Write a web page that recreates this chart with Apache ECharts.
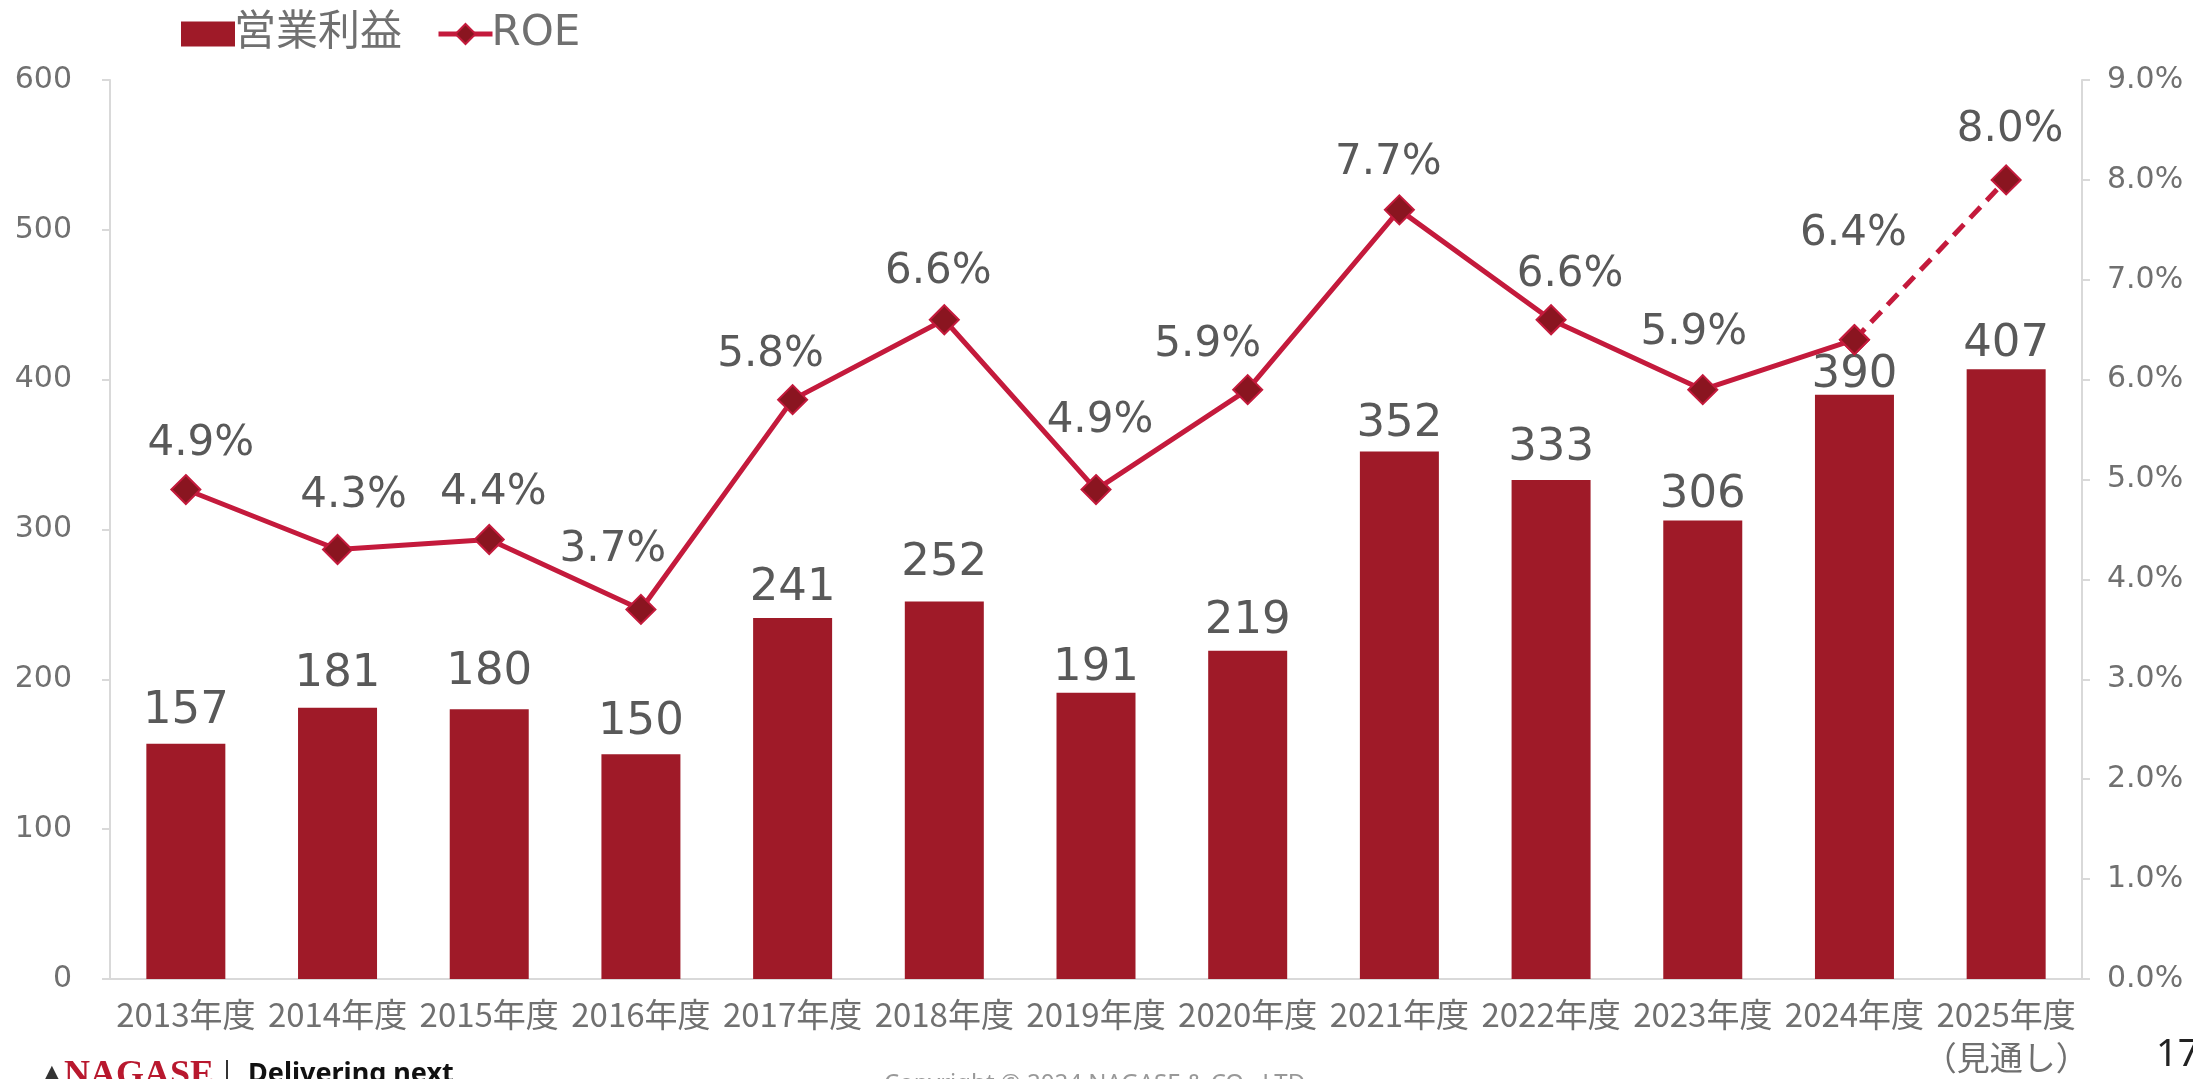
<!DOCTYPE html>
<html>
<head>
<meta charset="utf-8">
<script src="https://cdn.jsdelivr.net/npm/echarts@6/dist/echarts.min.js"></script>
<style>
html, body { margin: 0; padding: 0; background: #fff; }
#main { width: 2193px; height: 1079px; }
</style>
</head>
<body>
<div id="main"></div>
<script>
// data
var years = ['2013年度', '2014年度', '2015年度', '2016年度', '2017年度', '2018年度', '2019年度',
             '2020年度', '2021年度', '2022年度', '2023年度', '2024年度', '2025年度\n（見通し）'];
var opProfit = [157, 181, 180, 150, 241, 252, 191, 219, 352, 333, 306, 390, 407];
var roe = [4.9, 4.3, 4.4, 3.7, 5.8, 6.6, 4.9, 5.9, 7.7, 6.6, 5.9, 6.4, 8.0];
var leftTicks = [0, 600, 100];
var rightTicks = [0, 9, 1];

// hand placed label nudges (px) as in the original slide
var roeLabelNudge = [[15, 0], [16, -8], [4, -1], [-28, -14], [-22, 1], [-6, -2], [4, -23],
                     [-40, 1], [-11, -1], [19, 1], [-9, -11], [-1, -60], [4, -4]];
var barLabelNudge = [0, 1, 4, -1, -3, 6, -8, -3, -5, -1, -7, -13, -8];

var barColor = '#9F1A28';
var lineColor = '#C41A3C';
var markColor = '#8A1520';
var axisText = '#707070';
var labelText = '#595959';

// actual years solid, forecast year dashed
var lastIdx = roe.length - 1;
var roeSolid = roe.map(function (v, i) {
    if (i >= lastIdx) return '-';
    return { value: v, label: { offset: roeLabelNudge[i] } };
});
var roeDash = roe.map(function (v, i) {
    if (i < lastIdx - 1) return '-';
    return { value: v, label: { show: i === lastIdx, offset: roeLabelNudge[i] } };
});
var barData = opProfit.map(function (v, i) {
    return { value: v, label: { offset: [0, -barLabelNudge[i]] } };
});

var pctLabel = {
    show: true,
    position: 'top',
    distance: 9,
    fontFamily: 'DejaVu Sans',
    fontSize: 42,
    color: labelText,
    formatter: function (p) { return p.value.toFixed(1) + '%'; }
};

var dom = document.getElementById('main');
var myChart = echarts.init(dom);
var option = {
    animation: false,
    textStyle: { fontFamily: "'Noto Sans CJK JP', 'Noto Sans', sans-serif" },
    legend: {
        left: 176,
        top: 8,
        itemWidth: 54,
        itemHeight: 25,
        itemGap: 34,
        lineStyle: { width: 5 },
        textStyle: {
            fontFamily: "'DejaVu Sans', 'Noto Sans CJK JP'",
            fontSize: 42, color: axisText, padding: [0, 0, 0, -6]
        },
        data: [
            { name: '営業利益', icon: 'rect' },
            { name: 'ROE' }
        ]
    },
    grid: { left: 110, right: 111, top: 80, bottom: 89, containLabel: false },
    xAxis: {
        type: 'category',
        data: years,
        axisLine: { lineStyle: { color: '#D9D9D9', width: 2 } },
        axisTick: { show: false },
        axisLabel: {
            interval: 0,
            margin: 14,
            fontSize: 33,
            lineHeight: 43,
            color: axisText
        }
    },
    yAxis: [
        {
            type: 'value',
            min: leftTicks[0], max: leftTicks[1], interval: leftTicks[2],
            splitLine: { show: false },
            axisLine: { show: true, lineStyle: { color: '#D9D9D9', width: 2 } },
            axisTick: { show: true, length: 8, lineStyle: { color: '#D9D9D9', width: 2 } },
            axisLabel: { margin: 38, fontFamily: 'DejaVu Sans', fontSize: 30, color: axisText }
        },
        {
            type: 'value',
            position: 'right',
            min: rightTicks[0], max: rightTicks[1], interval: rightTicks[2],
            splitLine: { show: false },
            axisLine: { show: true, lineStyle: { color: '#D9D9D9', width: 2 } },
            axisTick: { show: true, length: 8, lineStyle: { color: '#D9D9D9', width: 2 } },
            axisLabel: {
                margin: 25, fontFamily: 'DejaVu Sans', fontSize: 30, color: axisText,
                formatter: function (v) { return v.toFixed(1) + '%'; }
            }
        }
    ],
    series: [
        {
            name: '営業利益',
            type: 'bar',
            data: barData,
            barWidth: 79,
            itemStyle: { color: barColor },
            label: {
                show: true,
                position: 'top',
                distance: 10,
                fontFamily: 'DejaVu Sans',
                fontSize: 45,
                color: labelText
            }
        },
        {
            name: 'ROE',
            type: 'line',
            yAxisIndex: 1,
            data: roeSolid,
            symbol: 'diamond',
            symbolSize: 29,
            lineStyle: { color: lineColor, width: 5 },
            itemStyle: { color: markColor, borderColor: lineColor, borderWidth: 2 },
            label: pctLabel,
            z: 3
        },
        {
            name: 'ROE',
            type: 'line',
            yAxisIndex: 1,
            data: roeDash,
            symbol: 'diamond',
            symbolSize: 29,
            lineStyle: { color: lineColor, width: 5, type: [15, 9] },
            itemStyle: { color: markColor, borderColor: lineColor, borderWidth: 2 },
            label: pctLabel,
            z: 2
        }
    ],
    graphic: [
        { type: 'text', left: 38, top: 1060, style: { text: '▲', fontSize: 28, fill: '#333' } },
        { type: 'text', left: 64, top: 1058, style: { text: 'NAGASE', fontFamily: 'Liberation Serif', fontWeight: 'bold', fontSize: 36, fill: '#B8182E' } },
        { type: 'rect', left: 226, top: 1060, shape: { width: 2, height: 30 }, style: { fill: '#333' } },
        { type: 'text', left: 248, top: 1061, style: { text: 'Delivering next', fontFamily: 'Noto Sans', fontWeight: 'bold', fontSize: 27, fill: '#111' } },
        { type: 'text', left: 884, top: 1072, style: { text: 'Copyright © 2024 NAGASE & CO., LTD.', fontFamily: 'Noto Sans', fontSize: 24, fill: '#999' } },
        { type: 'text', left: 2156, top: 1036, style: { text: '17', fontFamily: 'Noto Sans', fontSize: 38, fill: '#222' } }
    ]
};

if (option && typeof option === 'object') {
    myChart.setOption(option, true);
}
</script>
</body>
</html>
